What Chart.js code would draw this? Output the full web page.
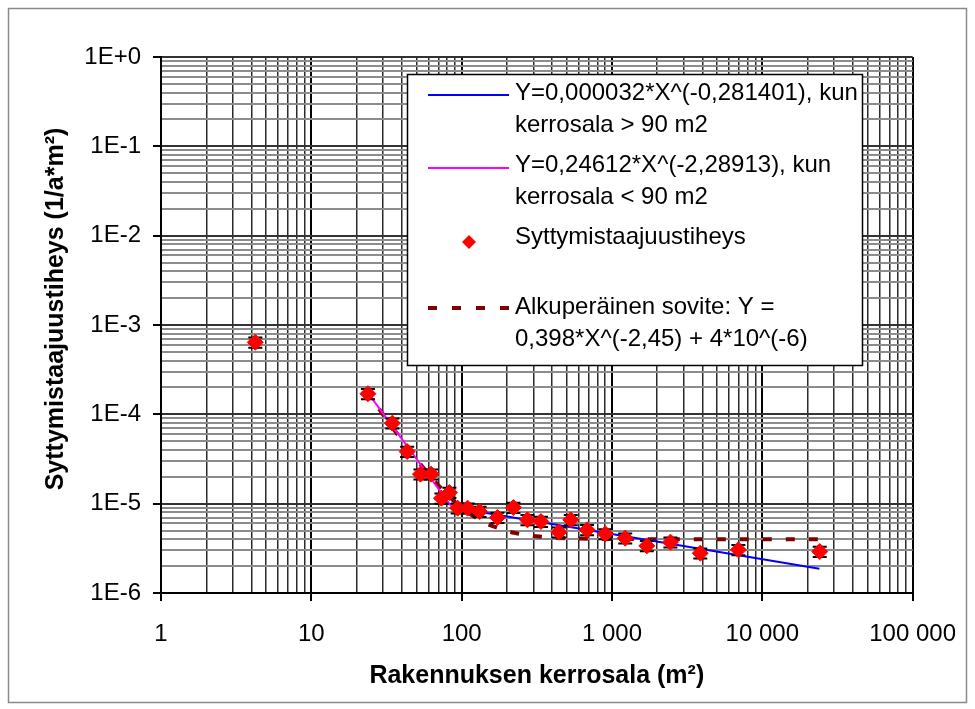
<!DOCTYPE html>
<html>
<head>
<meta charset="utf-8">
<title>Syttymistaajuustiheys</title>
<script src="https://cdn.jsdelivr.net/npm/chart.js@4.4.1/dist/chart.umd.min.js"></script>
<style>
  html, body { margin: 0; padding: 0; background: #fff; }
  canvas { display: block; }
</style>
</head>
<body>
<canvas id="firechart" width="975" height="709"></canvas>
<script>
// floor area of the building (m2) and observed ignition frequency (1/a*m2)
var areaX = [4.24, 23.8, 34.6, 43.4, 53.2, 62.6, 73.4, 82.9, 94.1, 109.6,
             131.6, 173, 221, 274, 337, 444, 532, 683, 903, 1225,
             1706, 2448, 3867, 6934, 24100];
var freqY = [6.4e-4, 1.70e-4, 7.97e-5, 3.83e-5, 2.14e-5, 2.14e-5, 1.15e-5, 1.33e-5, 8.9e-6, 8.9e-6,
             8.16e-6, 6.99e-6, 9.04e-6, 6.59e-6, 6.3e-6, 4.8e-6, 6.59e-6, 5.09e-6, 4.59e-6, 4.11e-6,
             3.37e-6, 3.71e-6, 2.79e-6, 3.04e-6, 2.91e-6];
// relative error of each point (drawn as error bars)
var freqErr = [0.13, 0.13, 0.13, 0.13, 0.13, 0.13, 0.13, 0.13, 0.13, 0.13,
               0.13, 0.13, 0.13, 0.13, 0.13, 0.13, 0.13, 0.13, 0.13, 0.13,
               0.13, 0.13, 0.13, 0.13, 0.13];

// power fits, straight on log-log so the end points are enough
var fitHighX = [88, 24000];
var fitHighY = [9.08e-6, 1.87e-6];
var fitLowX = [23, 88];
var fitLowY = [1.88e-4, 8.71e-6];

// original fit curve
var origX = [23, 26, 30, 35, 40, 45, 50, 60, 70, 80, 90, 100, 120, 150,
             200, 250, 300, 400, 500, 700, 1000, 2000, 5000, 24000];
var origY = [1.87e-4, 1.40e-4, 9.96e-5, 6.95e-5, 5.13e-5, 3.94e-5, 3.14e-5, 2.15e-5, 1.60e-5, 1.27e-5,
             1.05e-5, 9.03e-6, 7.21e-6, 5.85e-6, 4.92e-6, 4.53e-6, 4.34e-6, 4.17e-6, 4.10e-6, 4.04e-6,
             4.02e-6, 4.00e-6, 4.00e-6, 4.00e-6];

var xTickLabels = ['1', '10', '100', '1 000', '10 000', '100 000'];
var yTickLabels = ['1E-6', '1E-5', '1E-4', '1E-3', '1E-2', '1E-1', '1E+0'];

var xTitle = 'Rakennuksen kerrosala (m\u00b2)';
var yTitle = 'Syttymistaajuustiheys (1/a*m\u00b2)';

var legendHigh = ['Y=0,000032*X^(-0,281401), kun', 'kerrosala > 90 m2'];
var legendLow = ['Y=0,24612*X^(-2,28913), kun', 'kerrosala < 90 m2'];
var legendPoints = ['Syttymistaajuustiheys'];
var legendOrig = ['Alkuper\u00e4inen sovite: Y =', '0,398*X^(-2,45) + 4*10^(-6)'];

var FONT = 'Arial, "Liberation Sans", sans-serif';
Chart.defaults.font.family = FONT;
Chart.defaults.color = '#000';

function toPoints(xs, ys) {
    return xs.map(function (x, i) { return { x: x, y: ys[i] }; });
}

// 1..9 * 10^e for every decade, 1 * 10^e marked as major
function logTicks(minExp, maxExp) {
    var out = [];
    for (var e = minExp; e <= maxExp; e++) {
        for (var m = 1; m <= 9; m++) {
            if (e === maxExp && m > 1) break;
            out.push({ value: Number((m * Math.pow(10, e)).toPrecision(10)), major: m === 1 });
        }
    }
    return out;
}

var chartFrame = {
    id: 'chartFrame',
    beforeDraw: function (chart) {
        var ctx = chart.ctx;
        ctx.save();
        ctx.fillStyle = '#fff';
        ctx.fillRect(0, 0, chart.width, chart.height);
        ctx.strokeStyle = '#8a8a8a';
        ctx.lineWidth = 1.5;
        ctx.strokeRect(8.5, 8.5, 958, 694);
        ctx.restore();
    },
    // vertical axis title, sits a bit above the plot centre
    afterDraw: function (chart) {
        var ctx = chart.ctx;
        ctx.save();
        ctx.translate(56, 309);
        ctx.rotate(-Math.PI / 2);
        ctx.font = 'bold 25px ' + FONT;
        ctx.fillStyle = '#000';
        ctx.textAlign = 'center';
        ctx.textBaseline = 'middle';
        ctx.fillText(yTitle, 0, 0);
        ctx.restore();
    }
};

var errorBars = {
    id: 'errorBars',
    beforeDatasetDraw: function (chart, args) {
        if (args.index !== 0) return;
        var xs = chart.scales.x, ys = chart.scales.y, ctx = chart.ctx;
        ctx.save();
        ctx.strokeStyle = '#000';
        ctx.lineWidth = 2;
        areaX.forEach(function (x, i) {
            var px = xs.getPixelForValue(x);
            var hi = ys.getPixelForValue(freqY[i] * (1 + freqErr[i]));
            var lo = ys.getPixelForValue(freqY[i] * (1 - freqErr[i]));
            ctx.beginPath();
            ctx.moveTo(px, hi); ctx.lineTo(px, lo);
            ctx.moveTo(px - 7, hi); ctx.lineTo(px + 7, hi);
            ctx.moveTo(px - 7, lo); ctx.lineTo(px + 7, lo);
            ctx.stroke();
        });
        ctx.restore();
    }
};

// legend box with wrapped labels
var fitLegend = {
    id: 'fitLegend',
    afterDraw: function (chart) {
        var ctx = chart.ctx;
        ctx.save();
        ctx.fillStyle = '#fff';
        ctx.fillRect(407, 74, 455, 291);
        ctx.strokeStyle = '#000';
        ctx.lineWidth = 1.5;
        ctx.strokeRect(407.5, 74.5, 455, 291);

        function sample(y, color, width, dash) {
            ctx.beginPath();
            ctx.setLineDash(dash || []);
            ctx.strokeStyle = color;
            ctx.lineWidth = width;
            ctx.moveTo(428, y);
            ctx.lineTo(509, y);
            ctx.stroke();
            ctx.setLineDash([]);
        }
        function text(lines, y0) {
            ctx.fillStyle = '#000';
            ctx.font = '24px ' + FONT;
            ctx.textBaseline = 'middle';
            ctx.textAlign = 'left';
            lines.forEach(function (t, i) { ctx.fillText(t, 515, y0 + i * 32); });
        }

        sample(95, '#0000ff', 2);
        text(legendHigh, 93);
        sample(168, '#ff00ff', 2);
        text(legendLow, 165);

        ctx.fillStyle = '#ff0000';
        ctx.beginPath();
        ctx.moveTo(469, 235); ctx.lineTo(476, 242); ctx.lineTo(469, 249); ctx.lineTo(462, 242);
        ctx.closePath();
        ctx.fill();
        text(legendPoints, 237);

        sample(308, '#800000', 4, [9, 15]);
        text(legendOrig, 307);
        ctx.restore();
    }
};

new Chart(document.getElementById('firechart'), {
    type: 'scatter',
    data: {
        datasets: [
            {
                label: legendPoints[0],
                data: toPoints(areaX, freqY),
                pointStyle: 'rectRot',
                pointRadius: 8,
                pointBackgroundColor: '#ff0000',
                pointBorderColor: '#ff0000',
                pointBorderWidth: 1,
                showLine: false
            },
            {
                label: legendHigh.join(' '),
                data: toPoints(fitHighX, fitHighY),
                showLine: true,
                borderColor: '#0000ff',
                borderWidth: 2,
                pointRadius: 0
            },
            {
                label: legendLow.join(' '),
                data: toPoints(fitLowX, fitLowY),
                showLine: true,
                borderColor: '#ff00ff',
                borderWidth: 2,
                pointRadius: 0
            },
            {
                label: legendOrig.join(' '),
                data: toPoints(origX, origY),
                showLine: true,
                borderColor: '#800000',
                borderWidth: 4,
                borderDash: [9, 14],
                pointRadius: 0
            }
        ]
    },
    options: {
        responsive: false,
        animation: false,
        layout: { padding: { left: 0, right: 56, top: 57, bottom: 0 } },
        plugins: {
            legend: { display: false },
            tooltip: { enabled: false }
        },
        scales: {
            x: {
                type: 'logarithmic',
                min: 1,
                max: 100000,
                afterBuildTicks: function (scale) { scale.ticks = logTicks(0, 5); },
                afterFit: function (scale) { scale.height = 116; },
                border: { color: '#000', width: 2 },
                grid: {
                    color: function (c) { return c.tick && c.tick.major ? '#000' : '#2a2a2a'; },
                    lineWidth: function (c) { return c.tick && c.tick.major ? 2 : 1.5; },
                    tickLength: 8,
                    tickColor: function (c) { return c.tick && c.tick.major ? '#000' : 'rgba(0,0,0,0)'; }
                },
                ticks: {
                    autoSkip: false,
                    maxRotation: 0,
                    padding: 19,
                    font: { size: 24 },
                    callback: function (value, index, ticks) {
                        if (!ticks[index].major) return '';
                        return xTickLabels[Math.round(Math.log10(value))];
                    }
                },
                title: {
                    display: true,
                    text: xTitle,
                    font: { size: 25, weight: 'bold' },
                    padding: { top: 0, bottom: 18 }
                }
            },
            y: {
                type: 'logarithmic',
                min: 1e-6,
                max: 1,
                afterBuildTicks: function (scale) { scale.ticks = logTicks(-6, 0); },
                afterFit: function (scale) { scale.width = 161; },
                border: { color: '#000', width: 2 },
                grid: {
                    color: function (c) { return c.tick && c.tick.major ? '#333' : '#8c8c8c'; },
                    lineWidth: 2,
                    tickLength: 8,
                    tickColor: function (c) { return c.tick && c.tick.major ? '#000' : 'rgba(0,0,0,0)'; }
                },
                ticks: {
                    autoSkip: false,
                    padding: 12,
                    font: { size: 24 },
                    callback: function (value, index, ticks) {
                        if (!ticks[index].major) return '';
                        return yTickLabels[Math.round(Math.log10(value)) + 6];
                    }
                },
                title: { display: false }
            }
        }
    },
    plugins: [chartFrame, errorBars, fitLegend]
});
</script>
</body>
</html>
